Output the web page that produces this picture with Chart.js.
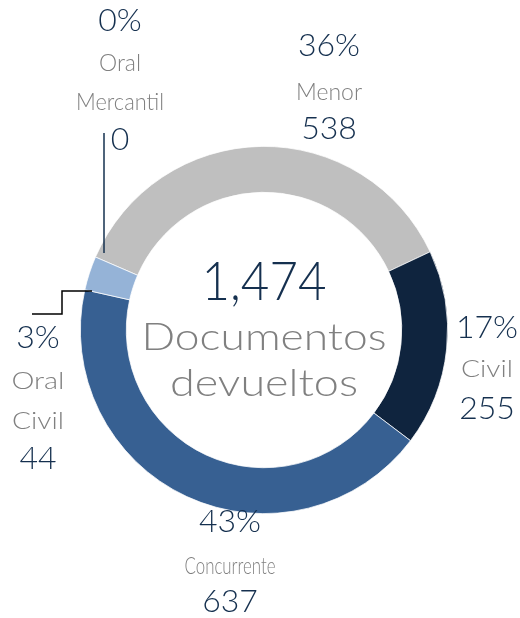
<!DOCTYPE html>
<html>
<head>
<meta charset="utf-8">
<script src="https://cdn.jsdelivr.net/npm/chart.js@4.4.1/dist/chart.umd.min.js"></script>
<style>
  html, body { margin: 0; padding: 0; background: #fff; }
  #wrap { width: 520px; height: 618px; }
</style>
</head>
<body>
<div id="wrap"><canvas id="docsChart" width="520" height="618"></canvas></div>
<script>
const categories = ['Menor', 'Civil', 'Concurrente', ['Oral', 'Civil'], ['Oral', 'Mercantil']];
const documentos = [538, 255, 637, 44, 0];
const percentLabels = ['36%', '17%', '43%', '3%', '0%'];
const centerWords = ['Documentos', 'devueltos'];

const sliceColors = ['#BFBFBF', '#0F243E', '#376092', '#95B3D7', '#558ED5'];
const NAVY = '#15304F';
const GREY = '#808080';
const FONT = 'Lato, "DejaVu Sans", sans-serif';

// where each label block sits, relative to the ring centre
// rows: y of percent, name line(s), value ; fit: squeeze width for names
const labelLayout = [
    { dx: 65, rows: [-284, -238, -201], fit: [66] },
    { dx: 223, rows: [-2, 39, 79], fit: [52] },
    { dx: -34, rows: [192, 236, 272], fit: [91] },
    { dx: -226, rows: [8, 51, 91, 129], fit: [53, 52] },
    { dx: -144, rows: [-309, -267, -228, -190], fit: [42, 88] }
];

const drawText = (ctx, text, x, y, font, color, fitWidth) => {
    ctx.save();
    ctx.font = font;
    ctx.fillStyle = color;
    ctx.textAlign = 'center';
    ctx.textBaseline = 'middle';
    if (fitWidth) {
        const w = ctx.measureText(text).width;
        ctx.translate(x, y);
        ctx.scale(fitWidth / w, 1);
        ctx.fillText(text, 0, 0);
    } else {
        ctx.fillText(text, x, y);
    }
    ctx.restore();
};

const labelsPlugin = {
    id: 'sliceLabels',
    afterDatasetsDraw(chart) {
        const ctx = chart.ctx;
        const arc = chart.getDatasetMeta(0).data[0];
        const cx = arc.x, cy = arc.y;

        // leader lines
        ctx.save();
        ctx.lineWidth = 1.5;
        ctx.strokeStyle = NAVY;
        ctx.beginPath();
        ctx.moveTo(cx - 160, cy - 197);
        ctx.lineTo(cx - 160, cy - 77);
        ctx.stroke();
        ctx.strokeStyle = '#000';
        ctx.beginPath();
        ctx.moveTo(cx - 172, cy - 39);
        ctx.lineTo(cx - 202, cy - 39);
        ctx.lineTo(cx - 202, cy - 16);
        ctx.lineTo(cx - 232, cy - 16);
        ctx.stroke();
        ctx.restore();

        categories.forEach((cat, i) => {
            const lay = labelLayout[i];
            const names = Array.isArray(cat) ? cat : [cat];
            const x = cx + lay.dx;
            drawText(ctx, percentLabels[i], x, cy + lay.rows[0], '300 32px ' + FONT, NAVY);
            names.forEach((n, j) => {
                const fit = lay.fit ? lay.fit[j] : null;
                drawText(ctx, n, x, cy + lay.rows[1 + j], '300 24px ' + FONT, GREY, fit);
            });
            drawText(ctx, String(documentos[i]), x, cy + lay.rows[names.length + 1], '300 32px ' + FONT, NAVY);
        });

        // centre text
        const total = documentos.reduce((a, b) => a + b, 0);
        drawText(ctx, total.toLocaleString('en-US'), cx, cy - 47, '300 53px ' + FONT, NAVY, 125);
        drawText(ctx, centerWords[0], cx, cy + 8, '300 37px ' + FONT, GREY, 245);
        drawText(ctx, centerWords[1], cx, cy + 54, '300 37px ' + FONT, GREY, 188);
    }
};

new Chart(document.getElementById('docsChart').getContext('2d'), {
    type: 'doughnut',
    data: {
        labels: categories,
        datasets: [{
            data: documentos,
            backgroundColor: sliceColors,
            borderColor: '#fff',
            borderWidth: 0.75
        }]
    },
    options: {
        responsive: false,
        animation: false,
        rotation: -66.6,
        cutout: '75%',
        layout: { padding: { left: 80, right: 72, top: 146, bottom: 104 } },
        plugins: {
            legend: { display: false },
            tooltip: { enabled: false }
        }
    },
    plugins: [labelsPlugin]
});
</script>
</body>
</html>
